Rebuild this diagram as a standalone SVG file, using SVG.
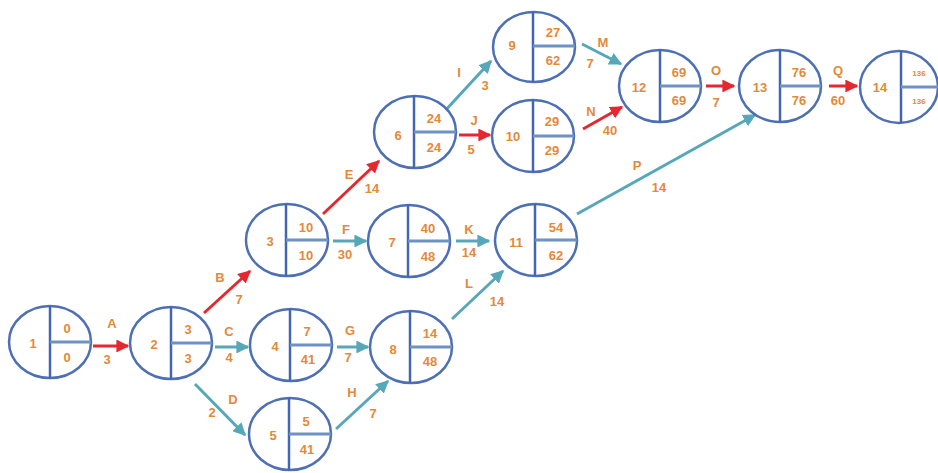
<svg xmlns="http://www.w3.org/2000/svg" width="938" height="473" viewBox="0 0 938 473">
<defs>
<style>
.n ellipse{fill:#fff;stroke:#4d6fb3;stroke-width:2.5}
.n .v{stroke:#4466b0;stroke-width:2.5}
.n .h{stroke:#6f92c4;stroke-width:3}
text{font-family:"Liberation Sans",Arial,sans-serif;font-weight:bold;font-size:13px;fill:#e3893a;text-anchor:middle;dominant-baseline:central}
.r{stroke:#e5282f;stroke-width:3;fill:none}
.t{stroke:#56a8b8;stroke-width:3;fill:none}
</style>
<marker id="ar" viewBox="0 0 10 10" refX="9" refY="5" markerWidth="4.3" markerHeight="4.3" orient="auto" markerUnits="strokeWidth"><path d="M0,0 L10,5 L0,10 z" fill="#e5282f"/></marker>
<marker id="at" viewBox="0 0 10 10" refX="9" refY="5" markerWidth="4.3" markerHeight="4.3" orient="auto" markerUnits="strokeWidth"><path d="M0,0 L10,5 L0,10 z" fill="#56a8b8"/></marker>
</defs>
<rect width="938" height="473" fill="#fff"/>
<g id="connectors">
<line class="r" x1="93" y1="346" x2="128" y2="346" marker-end="url(#ar)"/>
<line class="r" x1="204" y1="313" x2="250" y2="271" marker-end="url(#ar)"/>
<line class="t" x1="215" y1="347" x2="248" y2="347" marker-end="url(#at)"/>
<line class="t" x1="195" y1="384" x2="245" y2="435" marker-end="url(#at)"/>
<line class="r" x1="323" y1="214" x2="379" y2="161" marker-end="url(#ar)"/>
<line class="t" x1="333" y1="241" x2="366" y2="241" marker-end="url(#at)"/>
<line class="t" x1="337" y1="347" x2="368" y2="347" marker-end="url(#at)"/>
<line class="t" x1="336" y1="429" x2="388" y2="381" marker-end="url(#at)"/>
<line class="t" x1="443" y1="113" x2="491" y2="61" marker-end="url(#at)"/>
<line class="r" x1="459" y1="135" x2="490" y2="135" marker-end="url(#ar)"/>
<line class="t" x1="456" y1="241" x2="489" y2="241" marker-end="url(#at)"/>
<line class="t" x1="452" y1="319" x2="503" y2="271" marker-end="url(#at)"/>
<line class="t" x1="582" y1="44" x2="621" y2="64" marker-end="url(#at)"/>
<line class="r" x1="583" y1="129" x2="622" y2="107" marker-end="url(#ar)"/>
<line class="r" x1="706" y1="86" x2="734" y2="86" marker-end="url(#ar)"/>
<line class="t" x1="577" y1="214" x2="755" y2="115" marker-end="url(#at)"/>
<line class="r" x1="829" y1="86" x2="857" y2="86" marker-end="url(#ar)"/>
<text x="112" y="323">A</text><text x="107" y="359">3</text>
<text x="220" y="277">B</text><text x="239" y="299">7</text>
<text x="229" y="331">C</text><text x="229" y="357">4</text>
<text x="233" y="399">D</text><text x="212" y="412">2</text>
<text x="349" y="174">E</text><text x="372" y="188">14</text>
<text x="346" y="229">F</text><text x="345" y="254">30</text>
<text x="350" y="330">G</text><text x="348" y="357">7</text>
<text x="352" y="392">H</text><text x="373" y="413">7</text>
<text x="459" y="72">I</text><text x="485" y="85">3</text>
<text x="474" y="120">J</text><text x="471" y="149">5</text>
<text x="469" y="229">K</text><text x="469" y="252">14</text>
<text x="469" y="283">L</text><text x="497" y="301">14</text>
<text x="603" y="42">M</text><text x="590" y="63">7</text>
<text x="591" y="111">N</text><text x="610" y="130">40</text>
<text x="716" y="70">O</text><text x="716" y="102">7</text>
<text x="637" y="165">P</text><text x="659" y="187">14</text>
<text x="838" y="70">Q</text><text x="838" y="100">60</text>
</g>
<g id="n1" class="n"><ellipse cx="50" cy="342" rx="41" ry="36"/><line class="v" x1="50" y1="306" x2="50" y2="378"/><line class="h" x1="50" y1="342" x2="91" y2="342"/><text x="33" y="343">1</text><text x="67" y="328">0</text><text x="67" y="357">0</text></g>
<g id="n2" class="n"><ellipse cx="171" cy="343" rx="41" ry="36"/><line class="v" x1="171" y1="307" x2="171" y2="379"/><line class="h" x1="171" y1="343" x2="212" y2="343"/><text x="154" y="344">2</text><text x="188" y="329">3</text><text x="188" y="358">3</text></g>
<g id="n3" class="n"><ellipse cx="287" cy="240" rx="41" ry="36"/><line class="v" x1="286" y1="204" x2="286" y2="276"/><line class="h" x1="286" y1="240" x2="328" y2="240"/><text x="270" y="241">3</text><text x="306" y="227">10</text><text x="306" y="255">10</text></g>
<g id="n4" class="n"><ellipse cx="291" cy="345" rx="41" ry="36"/><line class="v" x1="290" y1="309" x2="290" y2="381"/><line class="h" x1="290" y1="345" x2="332" y2="345"/><text x="275" y="346">4</text><text x="307" y="331">7</text><text x="308" y="359">41</text></g>
<g id="n5" class="n"><ellipse cx="290" cy="434" rx="41" ry="36"/><line class="v" x1="289" y1="398" x2="289" y2="470"/><line class="h" x1="289" y1="434" x2="331" y2="434"/><text x="273" y="435">5</text><text x="306" y="421">5</text><text x="307" y="449">41</text></g>
<g id="n6" class="n"><ellipse cx="415" cy="132" rx="41" ry="36"/><line class="v" x1="414" y1="96" x2="414" y2="168"/><line class="h" x1="414" y1="132" x2="456" y2="132"/><text x="398" y="135">6</text><text x="434" y="118">24</text><text x="434" y="147">24</text></g>
<g id="n7" class="n"><ellipse cx="409" cy="241" rx="41" ry="36"/><line class="v" x1="408" y1="205" x2="408" y2="277"/><line class="h" x1="408" y1="241" x2="450" y2="241"/><text x="392" y="242">7</text><text x="428" y="228">40</text><text x="428" y="256">48</text></g>
<g id="n8" class="n"><ellipse cx="411" cy="347" rx="41" ry="36"/><line class="v" x1="410" y1="311" x2="410" y2="383"/><line class="h" x1="410" y1="347" x2="452" y2="347"/><text x="393" y="349">8</text><text x="430" y="333">14</text><text x="430" y="361">48</text></g>
<g id="n9" class="n"><ellipse cx="534" cy="47" rx="41" ry="35"/><line class="v" x1="533" y1="12" x2="533" y2="82"/><line class="h" x1="533" y1="46" x2="575" y2="46"/><text x="512" y="45">9</text><text x="553" y="32">27</text><text x="553" y="60">62</text></g>
<g id="n10" class="n"><ellipse cx="533" cy="136" rx="41" ry="36"/><line class="v" x1="533" y1="100" x2="533" y2="172"/><line class="h" x1="533" y1="136" x2="574" y2="136"/><text x="513" y="136">10</text><text x="552" y="121">29</text><text x="552" y="150">29</text></g>
<g id="n11" class="n"><ellipse cx="536" cy="240" rx="41" ry="36"/><line class="v" x1="535" y1="204" x2="535" y2="276"/><line class="h" x1="535" y1="240" x2="577" y2="240"/><text x="516" y="242">11</text><text x="556" y="227">54</text><text x="556" y="255">62</text></g>
<g id="n12" class="n"><ellipse cx="660" cy="86" rx="41" ry="36"/><line class="v" x1="660" y1="50" x2="660" y2="122"/><line class="h" x1="660" y1="86" x2="701" y2="86"/><text x="639" y="87">12</text><text x="679" y="72">69</text><text x="679" y="100">69</text></g>
<g id="n13" class="n"><ellipse cx="780" cy="86" rx="41" ry="36"/><line class="v" x1="780" y1="50" x2="780" y2="122"/><line class="h" x1="780" y1="86" x2="821" y2="86"/><text x="760" y="87">13</text><text x="799" y="72">76</text><text x="799" y="100">76</text></g>
<g id="n14" class="n"><ellipse cx="899" cy="87" rx="39" ry="36"/><line class="v" x1="901" y1="51" x2="901" y2="123"/><line class="h" x1="901" y1="87" x2="938" y2="87"/><text x="880" y="87">14</text><text x="919" y="73" style="font-size:8px">136</text><text x="919" y="101" style="font-size:8px">136</text></g>
</svg>
